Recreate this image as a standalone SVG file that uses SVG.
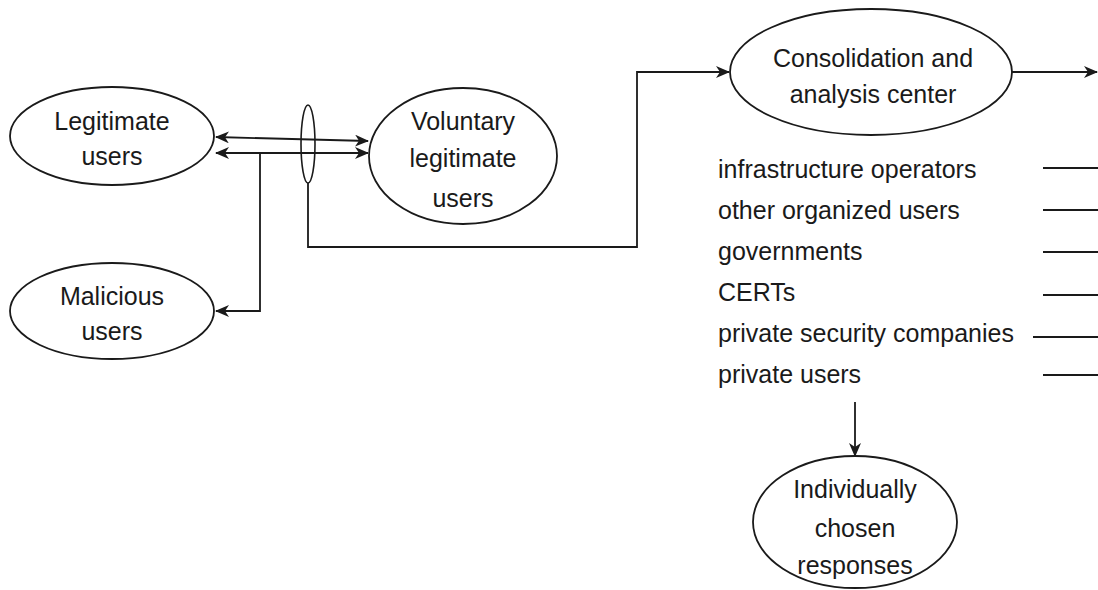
<svg xmlns="http://www.w3.org/2000/svg" width="1098" height="590" viewBox="0 0 1098 590">
<style>
.n{fill:#fff;stroke:#1a1a1a;stroke-width:1.8}
.t{font-family:"Liberation Sans",Arial,sans-serif;font-size:25px;fill:#1a1a1a;text-anchor:middle}
.l{font-family:"Liberation Sans",Arial,sans-serif;font-size:25px;fill:#1a1a1a}
.c{fill:none;stroke:#1a1a1a;stroke-width:1.8}
</style>
<defs>
<marker id="ae" viewBox="0 0 14 12" refX="13" refY="6" markerWidth="14" markerHeight="12" markerUnits="userSpaceOnUse" orient="auto-start-reverse">
<path d="M0,0 L14,6 L0,12 L4,6 z" fill="#1a1a1a"/>
</marker>
</defs>
<rect width="1098" height="590" fill="#fff"/>
<g id="connectors">
<line class="c" x1="216" y1="137" x2="368" y2="141" marker-start="url(#ae)" marker-end="url(#ae)"/>
<line class="c" x1="216" y1="153" x2="368" y2="153" marker-start="url(#ae)" marker-end="url(#ae)"/>
<polyline class="c" points="260,153 260,311 216,311" marker-end="url(#ae)"/>
<polyline class="c" points="308,183 308,247 637,247 637,72 729,72" marker-end="url(#ae)"/>
<line class="c" x1="1012" y1="72" x2="1097" y2="72" marker-end="url(#ae)"/>
<line class="c" x1="1043" y1="168" x2="1098" y2="168"/>
<line class="c" x1="1043" y1="210" x2="1098" y2="210"/>
<line class="c" x1="1043" y1="252" x2="1098" y2="252"/>
<line class="c" x1="1043" y1="295" x2="1098" y2="295"/>
<line class="c" x1="1033" y1="337" x2="1098" y2="337"/>
<line class="c" x1="1043" y1="375" x2="1098" y2="375"/>
<line class="c" x1="855" y1="402" x2="855" y2="456" marker-end="url(#ae)"/>
<ellipse cx="308" cy="144" rx="7" ry="39" fill="none" stroke="#1a1a1a" stroke-width="1.6"/>
</g>
<g id="legitimate">
<ellipse class="n" cx="112" cy="136" rx="102" ry="49"/>
<text class="t" x="112" y="130">Legitimate</text>
<text class="t" x="112" y="165">users</text>
</g>
<g id="malicious">
<ellipse class="n" cx="112" cy="311" rx="102" ry="48"/>
<text class="t" x="112" y="305">Malicious</text>
<text class="t" x="112" y="340">users</text>
</g>
<g id="voluntary">
<ellipse class="n" cx="463" cy="156" rx="94" ry="68"/>
<text class="t" x="463" y="130">Voluntary</text>
<text class="t" x="463" y="167">legitimate</text>
<text class="t" x="463" y="207">users</text>
</g>
<g id="consolidation">
<ellipse class="n" cx="871" cy="72" rx="141" ry="63"/>
<text class="t" x="873" y="67">Consolidation and</text>
<text class="t" x="873" y="103">analysis center</text>
</g>
<g id="list">
<text class="l" x="718" y="178">infrastructure operators</text>
<text class="l" x="718" y="219">other organized users</text>
<text class="l" x="718" y="260">governments</text>
<text class="l" x="718" y="301">CERTs</text>
<text class="l" x="718" y="342">private security companies</text>
<text class="l" x="718" y="383">private users</text>
</g>
<g id="responses">
<ellipse class="n" cx="855" cy="522" rx="102" ry="66"/>
<text class="t" x="855" y="498">Individually</text>
<text class="t" x="855" y="537">chosen</text>
<text class="t" x="855" y="574">responses</text>
</g>
</svg>
